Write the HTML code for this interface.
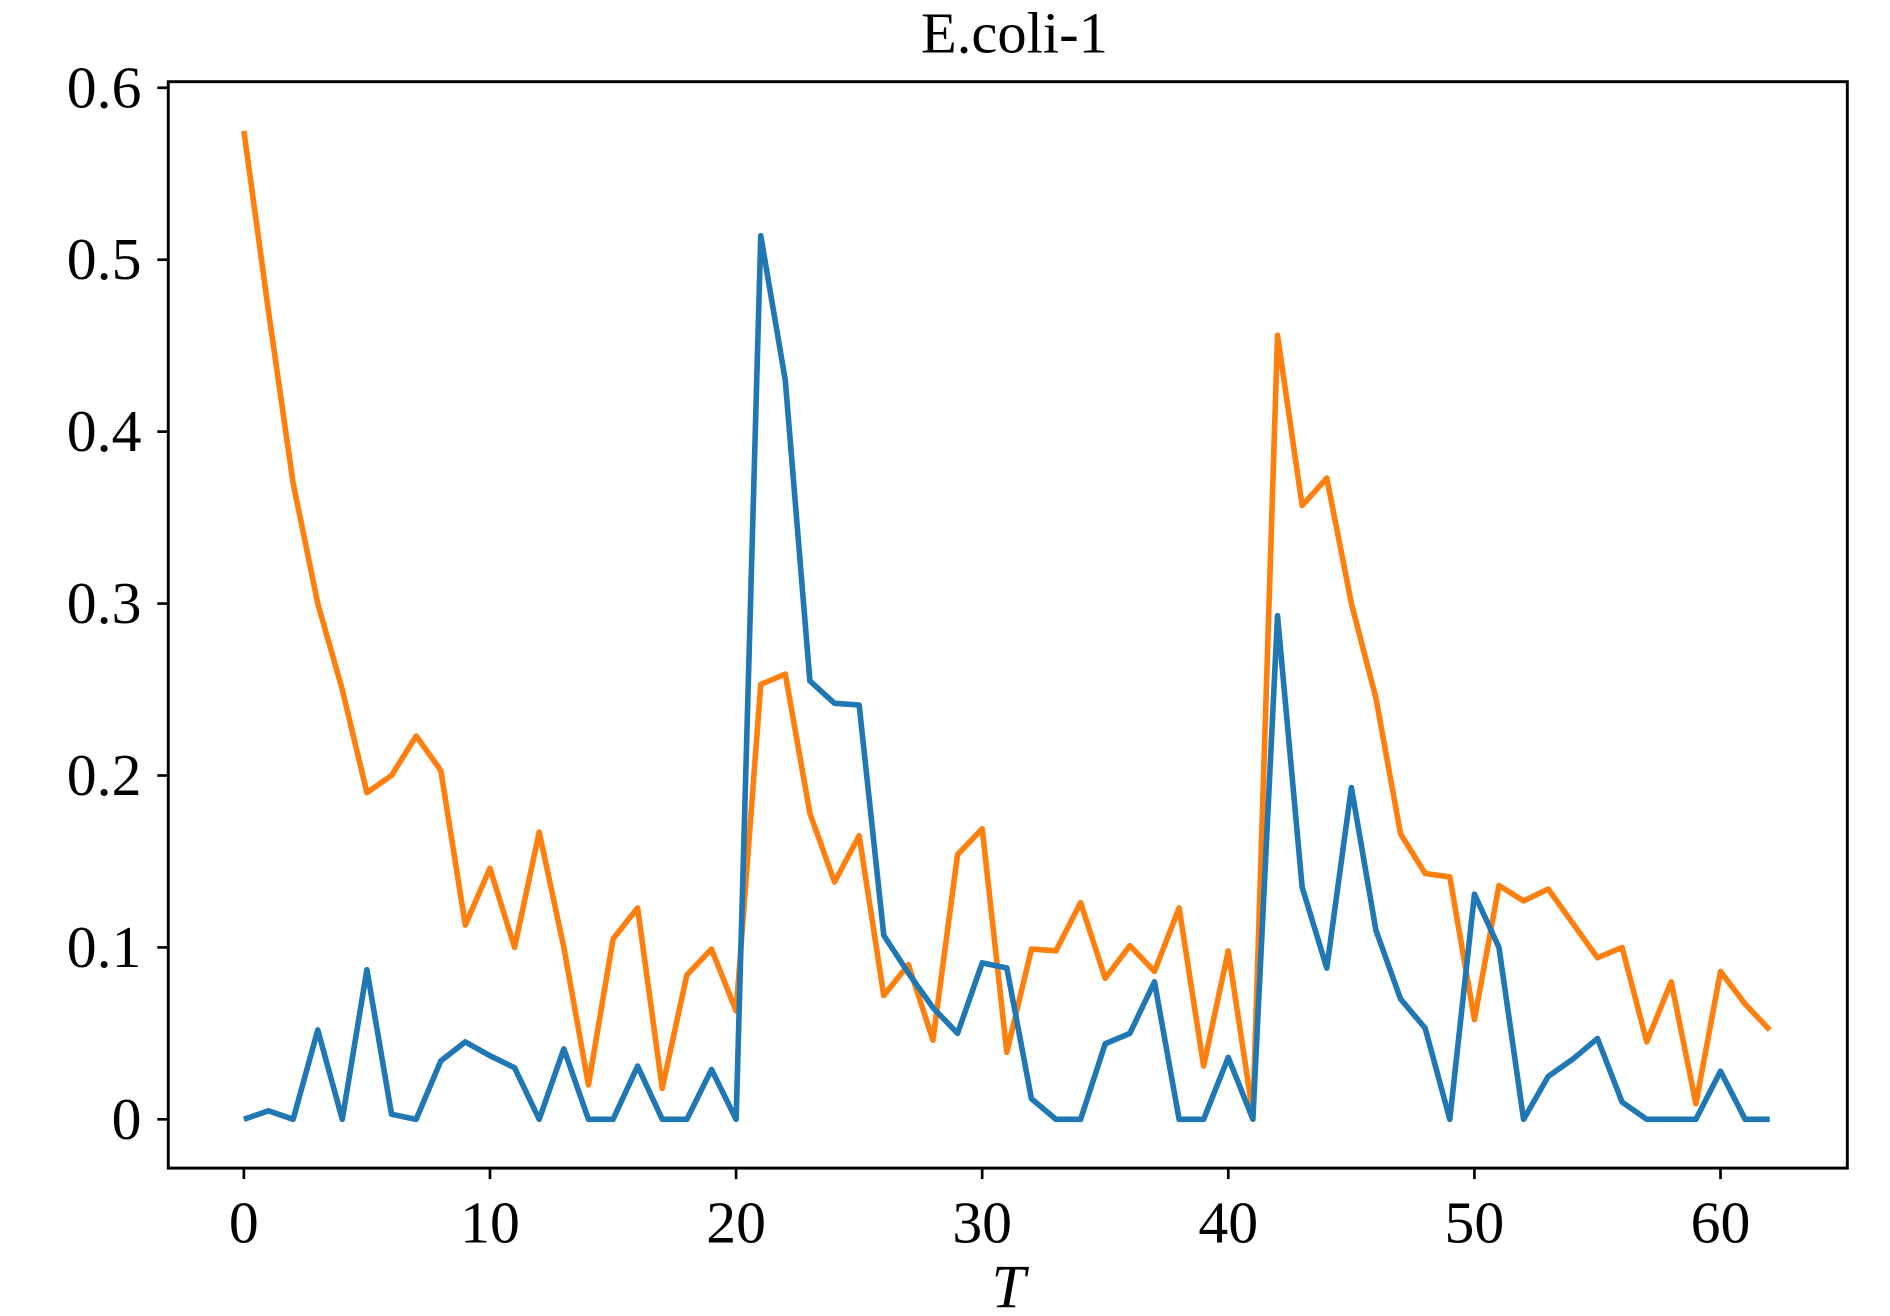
<!DOCTYPE html>
<html><head><meta charset="utf-8"><style>
html,body{margin:0;padding:0;background:#fff;}
svg{display:block;}
text{font-family:"Liberation Serif",serif;fill:#000;}
</style></head><body>
<svg id="chart" width="1890" height="1316" viewBox="0 0 1550 1079.3" preserveAspectRatio="none" xmlns="http://www.w3.org/2000/svg">
<rect x="0" y="0" width="1550" height="1080" fill="#fff"/>
<text x="832" y="43" font-size="48" text-anchor="middle">E.coli-1</text>
<g id="axes"></g>
<g id="series"></g>
<rect x="138" y="67" width="1377" height="891" fill="none" stroke="#000" stroke-width="2.4"/>
<text x="827" y="1072" font-size="50" font-style="italic" text-anchor="middle">T</text>
</svg>
<script>
const xTicks=[0,10,20,30,40,50,60];
const yTicks=[0,0.1,0.2,0.3,0.4,0.5,0.6];
const yTickLabels=["0","0.1","0.2","0.3","0.4","0.5","0.6"];
const blueValues=[0,0.005,0,0.052,0,0.087,0.003,0,0.034,0.045,0.037,0.03,0,0.041,0,0,0.031,0,0,0.029,0,0.514,0.43,0.255,0.242,0.241,0.107,0.085,0.065,0.05,0.091,0.088,0.012,0,0,0.044,0.05,0.08,0,0,0.036,0,0.293,0.135,0.088,0.193,0.11,0.07,0.053,0,0.131,0.1,0,0.025,0.035,0.047,0.01,0,0,0,0.028,0,0];
const orangeValues=[0.575,0.47,0.37,0.3,0.25,0.19,0.2,0.223,0.203,0.113,0.146,0.1,0.167,0.1,0.02,0.105,0.123,0.018,0.084,0.099,0.063,0.253,0.259,0.178,0.138,0.165,0.072,0.09,0.046,0.154,0.169,0.039,0.099,0.098,0.126,0.082,0.101,0.086,0.123,0.031,0.098,0.003,0.456,0.357,0.373,0.3,0.245,0.166,0.143,0.141,0.058,0.136,0.127,0.134,0.114,0.094,0.1,0.045,0.08,0.009,0.086,0.067,0.052];
</script>
<script>
const NS="http://www.w3.org/2000/svg";
const xs=v=>200+v*(1411-200)/60;
const ys=v=>918-v*(918-72)/0.6;
const axes=document.getElementById('axes');
const series=document.getElementById('series');
function mk(tag,attrs,parent){const e=document.createElementNS(NS,tag);for(const k in attrs)e.setAttribute(k,attrs[k]);parent.appendChild(e);return e;}
xTicks.forEach(t=>{
  const l=mk('line',{x1:xs(t),x2:xs(t),y1:958,y2:967,stroke:'#000','stroke-width':2.2},axes);
  
  
  const tx=mk('text',{x:xs(t),y:1019,'font-size':49,'text-anchor':'middle'},axes);
  tx.textContent=String(t);
  
  
});
yTicks.forEach((t,i)=>{
  const l=mk('line',{x1:129,x2:138,y1:ys(t),y2:ys(t),stroke:'#000','stroke-width':2.2},axes);
  
  
  const tx=mk('text',{x:116,y:ys(t)+16,'font-size':49,'text-anchor':'end'},axes);
  tx.textContent=yTickLabels[i];
  
  
});
function line(vals,color,name){
  const d=vals.map((v,i)=>(i?'L':'M')+xs(i).toFixed(1)+' '+ys(v).toFixed(1)).join(' ');
  const p=mk('path',{d:d,fill:'none',stroke:color,'stroke-width':4.6,'stroke-linejoin':'round'},series);
  
  
}
line(orangeValues,'#ff7f0e','orange-series-line');
line(blueValues,'#1f77b4','blue-series-line');
</script>
</body></html>
